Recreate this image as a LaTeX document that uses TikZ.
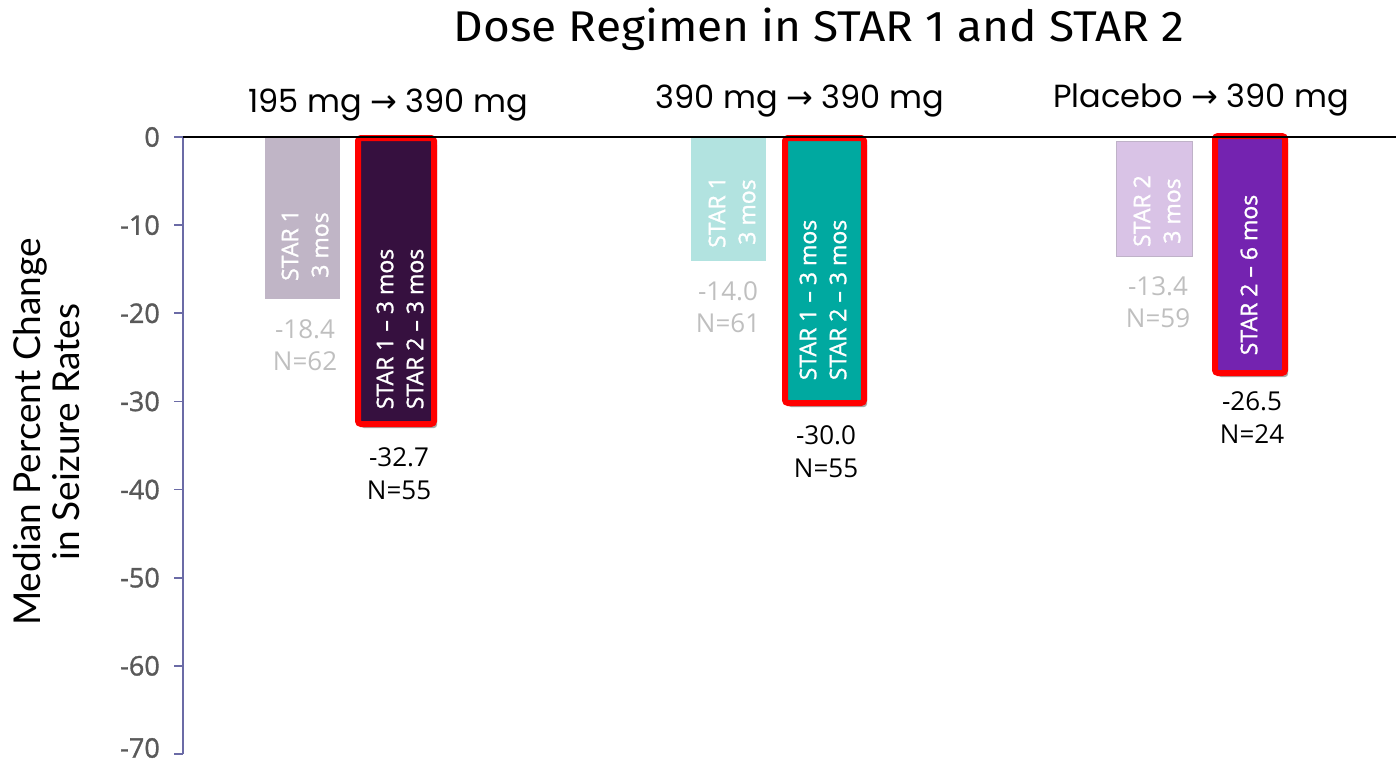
\documentclass[tikz,border=0pt]{standalone}
\usepackage{fontspec}
\setmainfont{Open Sans}
\newfontfamily\heavyfont[FakeBold=1.2]{Open Sans}
\newfontfamily\midfont[FakeBold=1.2]{Open Sans}
\newfontfamily\titlefont{Fira Sans}
\newfontfamily\headfont{Poppins}
\newfontfamily\labelfont{Lato}
\newfontfamily\symfont{DejaVu Sans}
\usetikzlibrary{shadows}
\definecolor{axisblue}{HTML}{6B6BA6}
\definecolor{tickgray}{HTML}{595959}
\definecolor{valgray}{HTML}{BFBFBF}
\definecolor{lightA}{HTML}{C0B5C6}
\definecolor{darkA}{HTML}{36103F}
\definecolor{lightB}{HTML}{B2E3E0}
\definecolor{darkB}{HTML}{00A9A0}
\definecolor{lightC}{HTML}{D9C3E6}
\definecolor{lightCborder}{HTML}{BFB2C8}
\definecolor{darkC}{HTML}{7423B0}
\begin{document}
\begin{tikzpicture}[x=1pt,y=-1pt,
  ytick/.style={draw=axisblue, line width=1.8pt},
  ticklabel/.style={anchor=east, text=tickgray, inner sep=0pt, font=\heavyfont\fontsize{27}{30}\selectfont},
  barlbl/.style={rotate=90, text=white, align=center, inner sep=0pt, font=\midfont\fontsize{23}{30}\selectfont},
  vallight/.style={text=valgray, align=center, inner sep=0pt, font=\fontsize{26}{32}\selectfont},
  valdark/.style={text=black, align=center, inner sep=0pt, font=\fontsize{26}{33}\selectfont},
  head/.style={anchor=base, inner sep=0pt, font=\headfont\fontsize{32}{36}\selectfont},
  hibar/.style={draw=red, line width=6pt, rounded corners=3pt,
    drop shadow={shadow xshift=3pt, shadow yshift=-4pt, opacity=0.35, fill=black}}
]
\useasboundingbox (0,0) rectangle (1396,765);

% title
\node[anchor=base, inner sep=0pt, xscale=1.07, font=\titlefont\fontsize{43}{50}\selectfont] (title) at (819,42) {Dose Regimen in STAR 1 and STAR 2};

% group headers
\node[head] (h1) at (388,113) {195 mg {\symfont →} 390 mg};
\node[head] (h2) at (800,109) {390 mg {\symfont →} 390 mg};
\node[head] (h3) at (1201,108) {Placebo {\symfont →} 390 mg};

% y axis label
\node[rotate=90, align=center, inner sep=0pt, font=\labelfont\fontsize{37}{39}\selectfont] (ylab) at (47,432) {Median Percent Change\\in Seizure Rates};

% light bars
\fill[lightA] (265,137) rectangle (340,299);
\fill[lightB] (691,137) rectangle (766,261);
\filldraw[fill=lightC, draw=lightCborder, line width=1pt] (1116,141) rectangle (1192,256);

% highlighted bars
\draw[hibar, fill=darkA] (358,138) rectangle (434,424);
\draw[hibar, fill=darkB] (785,138) rectangle (864,403);
\draw[hibar, fill=darkC] (1215,136) rectangle (1285,373);

% axes
\draw[axisblue, line width=1.8pt] (183,137) -- (183,754);
\foreach \v in {0,...,7} {
  \pgfmathsetmacro\yy{137+88.14*\v}
  \draw[ytick] (174,\yy) -- (183,\yy);
}
\foreach \v in {0,...,6} {
  \pgfmathsetmacro\yy{137+88.14*\v}
  \node[ticklabel] (t\v) at (160,\yy) {\ifnum\v=0 0\else -\v0\fi};
}
\node[ticklabel] (t7) at (160,748) {-70};
\draw[black, line width=1.5pt] (183,137) -- (1396,137);

% bar labels
\node[barlbl] (bA1) at (305,245) {STAR 1\\3 mos};
\node[barlbl] (bB1) at (732,212) {STAR 1\\3 mos};
\node[barlbl] (bC1) at (1157,211) {STAR 2\\3 mos};
\node[barlbl] (bA2) at (400,329) {STAR 1 – 3 mos\\STAR 2 – 3 mos};
\node[barlbl] (bB2) at (823,300) {STAR 1 – 3 mos\\STAR 2 – 3 mos};
\node[barlbl] (bC2) at (1249,275) {STAR 2 – 6 mos};

% value labels
\node[vallight] (vA1) at (305,345) {-18.4\\N=62};
\node[valdark] (vA2) at (399,474) {-32.7\\N=55};
\node[vallight] (vB1) at (728,307) {-14.0\\N=61};
\node[valdark] (vB2) at (826,452) {-30.0\\N=55};
\node[vallight] (vC1) at (1158,302) {-13.4\\N=59};
\node[valdark] (vC2) at (1252,418) {-26.5\\N=24};
\end{tikzpicture}
\end{document}
